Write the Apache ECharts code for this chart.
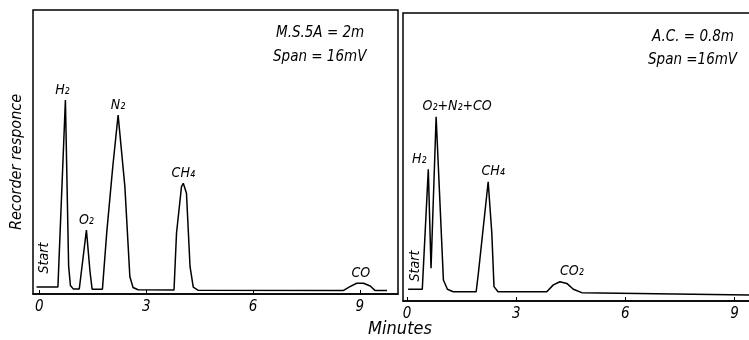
<!DOCTYPE html>
<html>
<head>
<meta charset="utf-8">
<script src="https://cdn.jsdelivr.net/npm/echarts@6/dist/echarts.min.js"></script>
<style>
  html, body { margin: 0; padding: 0; background: #fff; }
  #chart { width: 749px; height: 340px; }
</style>
</head>
<body>
<div id="chart"></div>
<script>
// left trace: M.S.5A column, [minutes, response]
const leftTrace = [
  [-0.08, 2.5], [0.52, 2.5], [0.55, 3], [0.73, 68.3], [0.82, 10], [0.87, 3], [0.95, 1.8],
  [1.12, 1.8], [1.18, 8], [1.32, 22.5], [1.42, 8], [1.48, 1.7], [1.77, 1.7],
  [1.89, 21.5], [2.06, 44.8], [2.21, 63], [2.40, 37.8], [2.54, 6.1], [2.63, 2.3], [2.77, 1.5],
  [3.78, 1.4], [3.85, 21.4], [3.99, 37.8], [4.04, 39], [4.13, 35.5], [4.23, 9.6], [4.32, 2.4], [4.46, 1.3],
  [8.53, 1.2], [8.72, 2.6], [8.91, 3.8], [9.1, 3.8], [9.29, 2.8], [9.43, 1.2], [9.76, 1.2]
];
// right trace: A.C. column
const rightTrace = [
  [0.03, 4.1], [0.42, 4.1], [0.585, 45.7], [0.66, 11.4], [0.80, 64], [1.0, 7.3], [1.11, 4.1], [1.27, 3.2],
  [1.90, 3.2], [1.96, 9.6], [2.23, 41.4], [2.33, 23.5], [2.39, 5.0], [2.50, 3.2],
  [3.84, 3.2], [4.02, 5.6], [4.20, 6.7], [4.39, 6.1], [4.57, 4.1], [4.80, 2.9], [9.4, 2.1]
];
// peak names: [label, minutes, response, dx]
const leftPeaks = [['H₂', 0.73, 68.3, -3], ['O₂', 1.32, 22.5, 0], ['N₂', 2.21, 63, 0], ['CH₄', 4.04, 39, 0], ['CO', 9.0, 3.8, 1]];
const rightPeaks = [['H₂', 0.585, 45.7, -9], ['O₂+N₂+CO', 0.80, 64, 21], ['CH₄', 2.23, 41.4, 5], ['CO₂', 4.20, 6.7, 12]];
const tickValues = [0, 3, 6, 9];

const font = "'DejaVu Sans Condensed', 'DejaVu Sans', sans-serif";

function xAxisFor(gridIndex, min, max) {
  return {
    type: 'value', gridIndex: gridIndex, min: min, max: max,
    axisLine: { show: true, lineStyle: { color: '#000', width: 1.5 } },
    axisTick: { show: true, inside: true, length: 4, customValues: tickValues, lineStyle: { color: '#000' } },
    axisLabel: { customValues: tickValues, color: '#000', fontSize: 15, fontStyle: 'italic', fontFamily: font, margin: 6 },
    splitLine: { show: false }
  };
}

function peakMarks(peaks) {
  return {
    symbol: 'circle', symbolSize: 0, silent: true,
    data: peaks.map(p => ({
      coord: [p[1], p[2]],
      label: {
        show: true, formatter: p[0], position: 'top', distance: 3, offset: [p[3], 0],
        color: '#000', fontSize: 14, fontStyle: 'italic', fontFamily: font
      }
    }))
  };
}

const chart = echarts.init(document.getElementById('chart'));
const option = {
  backgroundColor: '#fff',
  animation: false,
  grid: [
    { left: 33, top: 10, width: 365, height: 284, show: true, borderColor: '#000', borderWidth: 1.5, outerBoundsMode: 'none' },
    { left: 403, top: 13, width: 360, height: 288, show: true, borderColor: '#000', borderWidth: 1.5, outerBoundsMode: 'none' }
  ],
  xAxis: [xAxisFor(0, -0.18, 10.07), xAxisFor(1, -0.11, 9.78)],
  yAxis: [
    { type: 'value', gridIndex: 0, min: 0, max: 100, show: false },
    { type: 'value', gridIndex: 1, min: 0, max: 100, show: false }
  ],
  series: [
    {
      type: 'line', xAxisIndex: 0, yAxisIndex: 0, data: leftTrace, showSymbol: false,
      lineStyle: { color: '#000', width: 1.5 }, markPoint: peakMarks(leftPeaks)
    },
    {
      type: 'line', xAxisIndex: 1, yAxisIndex: 1, data: rightTrace, showSymbol: false,
      lineStyle: { color: '#000', width: 1.5 }, markPoint: peakMarks(rightPeaks)
    }
  ],
  graphic: [
    { type: 'text', left: 276, top: 26, style: { text: 'M.S.5A = 2m', font: 'italic 15px ' + font, fill: '#000' } },
    { type: 'text', left: 273, top: 50, style: { text: 'Span = 16mV', font: 'italic 15px ' + font, fill: '#000' } },
    { type: 'text', left: 652, top: 30, style: { text: 'A.C. = 0.8m', font: 'italic 15px ' + font, fill: '#000' } },
    { type: 'text', left: 648, top: 53, style: { text: 'Span =16mV', font: 'italic 15px ' + font, fill: '#000' } },
    { type: 'text', x: 17, y: 162, rotation: Math.PI / 2,
      style: { text: 'Recorder responce', font: 'italic 16px ' + font, fill: '#000', align: 'center', verticalAlign: 'middle' } },
    { type: 'text', x: 44, y: 258, rotation: Math.PI / 2,
      style: { text: 'Start', font: 'italic 14px ' + font, fill: '#000', align: 'center', verticalAlign: 'middle' } },
    { type: 'text', x: 415, y: 266, rotation: Math.PI / 2,
      style: { text: 'Start', font: 'italic 14px ' + font, fill: '#000', align: 'center', verticalAlign: 'middle' } },
    { type: 'text', x: 400, y: 329,
      style: { text: 'Minutes', font: 'italic 18px ' + font, fill: '#000', align: 'center', verticalAlign: 'middle' } }
  ]
};
chart.setOption(option);
</script>
</body>
</html>
